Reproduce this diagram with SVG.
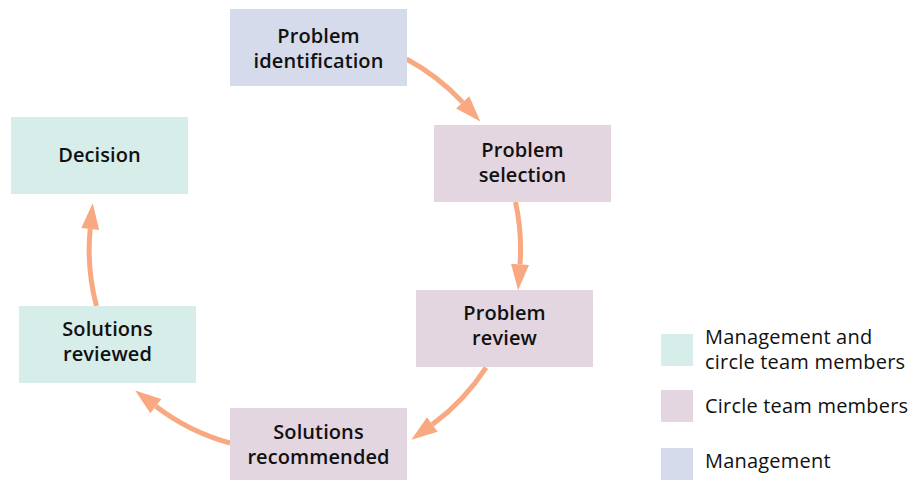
<svg xmlns="http://www.w3.org/2000/svg" width="915" height="480" viewBox="0 0 915 480">
<style>
  .lbl { font-family: "Open Sans", "Noto Sans", "Liberation Sans", sans-serif; font-size: 20px; font-weight: 600; letter-spacing: 0.1px; fill: #111; text-anchor: middle; }
  .leg { font-family: "Open Sans", "Noto Sans", "Liberation Sans", sans-serif; font-size: 20px; letter-spacing: 0.2px; fill: #111; }
  .mgmt { fill: #D6DBEC; }
  .team { fill: #E3D6E0; }
  .both { fill: #D7EDE9; }
  .arc { fill: none; stroke: #F8A981; stroke-width: 5; marker-end: url(#head); }
</style>
<defs>
  <marker id="head" markerUnits="userSpaceOnUse" markerWidth="27" markerHeight="19" refX="0" refY="9" orient="auto" overflow="visible">
    <path d="M0,0 L26,9 L0,18 Z" fill="#F8A981"/>
  </marker>
</defs>
<rect width="915" height="480" fill="#fff"/>
<g id="connectors">
  <path class="arc" d="M406.5,59 A216,216 0 0 1 462.7,102.4"/>
  <path class="arc" d="M515.5,202 A216,216 0 0 1 520,264.3"/>
  <path class="arc" d="M486,367.6 A216,216 0 0 1 432.3,424.5"/>
  <path class="arc" d="M230,443 A216,216 0 0 1 155.8,406.2"/>
  <path class="arc" d="M96.5,306 A216,216 0 0 1 90.2,229"/>
</g>
<g id="problem-identification">
  <rect class="mgmt" x="230" y="9" width="177" height="77"/>
  <text class="lbl" x="318.5" y="43">Problem</text>
  <text class="lbl" x="318.5" y="68">identification</text>
</g>
<g id="problem-selection">
  <rect class="team" x="434" y="125" width="177" height="77"/>
  <text class="lbl" x="522.5" y="157">Problem</text>
  <text class="lbl" x="522.5" y="182">selection</text>
</g>
<g id="problem-review">
  <rect class="team" x="416" y="290" width="177" height="77"/>
  <text class="lbl" x="504.5" y="320">Problem</text>
  <text class="lbl" x="504.5" y="345">review</text>
</g>
<g id="solutions-recommended">
  <rect class="team" x="230" y="408" width="177" height="77"/>
  <text class="lbl" x="318.5" y="439">Solutions</text>
  <text class="lbl" x="318.5" y="464">recommended</text>
</g>
<g id="solutions-reviewed">
  <rect class="both" x="19" y="306" width="177" height="77"/>
  <text class="lbl" x="107.5" y="336">Solutions</text>
  <text class="lbl" x="107.5" y="361">reviewed</text>
</g>
<g id="decision">
  <rect class="both" x="11" y="117" width="177" height="77"/>
  <text class="lbl" x="99.5" y="162">Decision</text>
</g>
<g id="legend">
  <rect class="both" x="661" y="334" width="32" height="32"/>
  <text class="leg" x="705" y="344">Management and</text>
  <text class="leg" x="705" y="369">circle team members</text>
  <rect class="team" x="661" y="390" width="32" height="32"/>
  <text class="leg" x="705" y="413">Circle team members</text>
  <rect class="mgmt" x="661" y="448" width="32" height="32"/>
  <text class="leg" x="705" y="468">Management</text>
</g>
</svg>
